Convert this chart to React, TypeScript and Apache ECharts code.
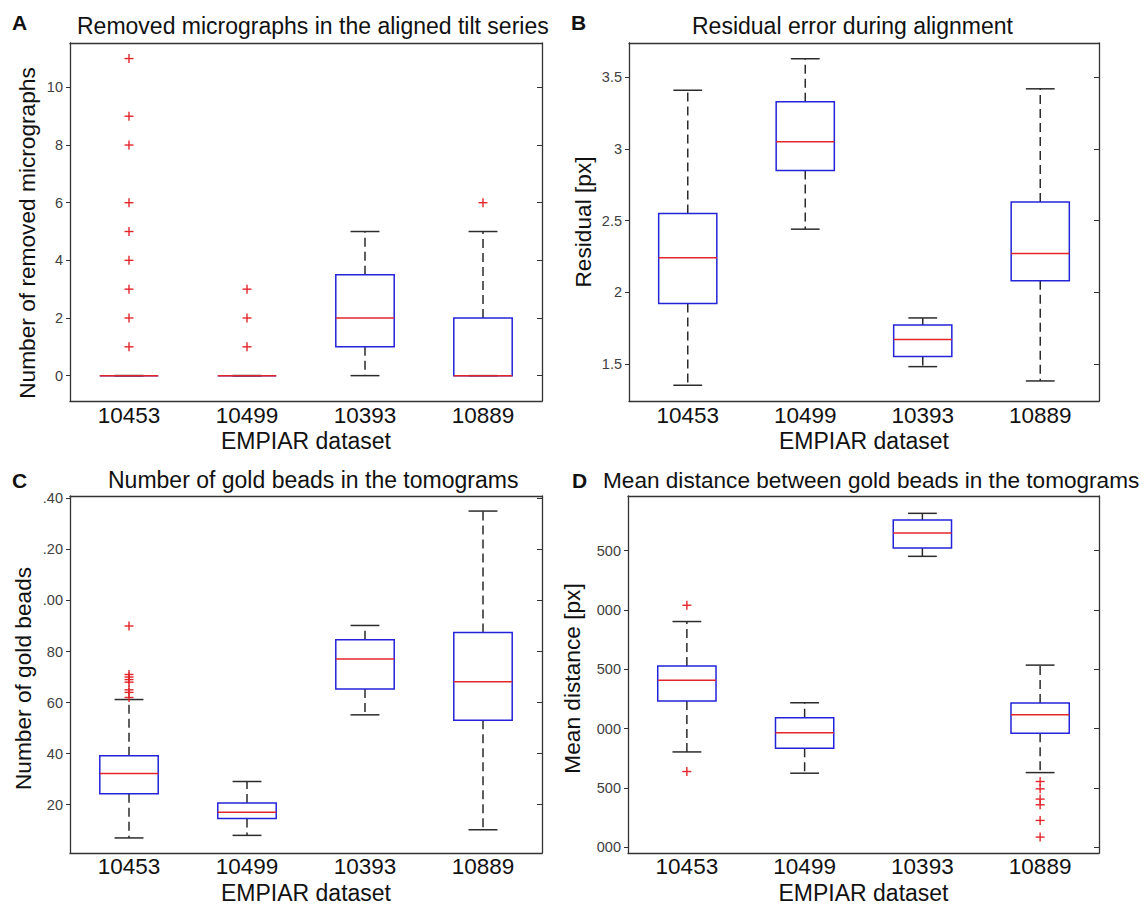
import React, { useEffect, useRef } from 'react';
import * as echarts from 'echarts';

const categories = ['10453', '10499', '10393', '10889'];

// each box: [lower whisker, q1, median, q3, upper whisker]
const removedBoxes = [
  [0, 0, 0, 0, 0],
  [0, 0, 0, 0, 0],
  [0, 1, 2, 3.5, 5],
  [0, 0, 0, 2, 5],
];
const removedOutliers = [[1, 2, 3, 4, 5, 6, 8, 9, 11], [1, 2, 3], [], [6]];
const removedTicks = [0, 2, 4, 6, 8, 10];

const residualBoxes = [
  [1.35, 1.92, 2.24, 2.55, 3.41],
  [2.44, 2.85, 3.05, 3.33, 3.63],
  [1.48, 1.55, 1.67, 1.77, 1.82],
  [1.38, 2.08, 2.27, 2.63, 3.42],
];
const residualOutliers: number[][] = [[], [], [], []];
const residualTicks = [1.5, 2, 2.5, 3, 3.5];

const beadsBoxes = [
  [7, 24.3, 32.2, 39.2, 61.2],
  [8, 14.6, 17.1, 20.7, 29.1],
  [55.2, 65.3, 77.1, 84.6, 90.2],
  [10.2, 53.1, 68.2, 87.4, 135],
];
const beadsOutliers = [[62, 64, 65, 68, 69, 70, 71, 90], [], [], []];
const beadsTicks = [20, 40, 60, 80, 100, 120, 140];

const distanceBoxes = [
  [1804, 2233, 2407, 2527, 2902],
  [1625, 1835, 1966, 2092, 2218],
  [3451, 3521, 3647, 3756, 3813],
  [1630, 1961, 2118, 2216, 2535],
];
const distanceOutliers = [[1639, 3039], [], [], [1087, 1227, 1359, 1407, 1493, 1555]];
const distanceTicks = [1000, 1500, 2000, 2500, 3000, 3500];

const FONT = '"Liberation Sans", Arial, Helvetica, sans-serif';
const AXIS_COLOR = '#333333';
const BOX_BLUE = '#2323d8';
const MED_RED = '#e3262b';

const panels = [
  {
    letter: 'A', title: 'Removed micrographs in the aligned tilt series', yName: 'Number of removed micrographs',
    boxes: removedBoxes, outliers: removedOutliers, ticks: removedTicks, min: -0.88, max: 11.54,
    grid: { left: 70, top: 43, width: 472, height: 358 }, nameGapY: 32, labelMargin: 3, namePad: [0, 22, 0, 0],
    titleX: 77, titleY: 26, letterX: 12, letterY: 22, titleSize: 23,
    fmt: (v: number) => String(v),
  },
  {
    letter: 'B', title: 'Residual error during alignment', yName: 'Residual [px]',
    boxes: residualBoxes, outliers: residualOutliers, ticks: residualTicks, min: 1.24, max: 3.74,
    grid: { left: 629, top: 43, width: 470, height: 358 }, nameGapY: 35, labelMargin: 3, namePad: [0, 0, 0, 0],
    titleX: 692, titleY: 26, letterX: 571, letterY: 22, titleSize: 23,
    fmt: (v: number) => String(v),
  },
  {
    letter: 'C', title: 'Number of gold beads in the tomograms', yName: 'Number of gold beads',
    boxes: beadsBoxes, outliers: beadsOutliers, ticks: beadsTicks, min: 1.1, max: 140.9,
    grid: { left: 70, top: 496, width: 472, height: 357 }, nameGapY: 36, labelMargin: 2, namePad: [0, 8, 0, 0],
    titleX: 108, titleY: 480, letterX: 12, letterY: 480, titleSize: 23,
    fmt: (v: number) => (v >= 100 ? '.' + String(v).slice(-2) : String(v)),
  },
  {
    letter: 'D', title: 'Mean distance between gold beads in the tomograms', yName: 'Mean distance [px]',
    boxes: distanceBoxes, outliers: distanceOutliers, ticks: distanceTicks, min: 953, max: 3959,
    grid: { left: 628, top: 496, width: 471, height: 357 }, nameGapY: 45, labelMargin: 2, namePad: [0, 8, 0, 0],
    titleX: 603, titleY: 480, letterX: 572, letterY: 480, titleSize: 22.6,
    fmt: (v: number) => String(v).slice(-3),
  },
];

function renderBox(params: any, api: any) {
  const idx = api.value(0);
  const lo = api.value(1);
  const q1 = api.value(2);
  const med = api.value(3);
  const q3 = api.value(4);
  const hi = api.value(5);
  const band = api.size([1, 0])[0];
  const bw = band * 0.495;
  const cw = band * 0.245;
  const pLo = api.coord([idx, lo]);
  const pQ1 = api.coord([idx, q1]);
  const pMed = api.coord([idx, med]);
  const pQ3 = api.coord([idx, q3]);
  const pHi = api.coord([idx, hi]);
  const x = pMed[0];
  const wStyle = { stroke: '#2b2b2b', lineWidth: 1.5, lineDash: [9, 5] };
  const cStyle = { stroke: '#2b2b2b', lineWidth: 1.5 };
  const children: any[] = [];
  if (pHi[1] < pQ3[1]) {
    children.push({ type: 'line', shape: { x1: x, y1: pQ3[1], x2: x, y2: pHi[1] }, style: wStyle });
  }
  if (pLo[1] > pQ1[1]) {
    children.push({ type: 'line', shape: { x1: x, y1: pQ1[1], x2: x, y2: pLo[1] }, style: wStyle });
  }
  children.push({ type: 'line', shape: { x1: x - cw / 2, y1: pHi[1], x2: x + cw / 2, y2: pHi[1] }, style: cStyle });
  children.push({ type: 'line', shape: { x1: x - cw / 2, y1: pLo[1], x2: x + cw / 2, y2: pLo[1] }, style: cStyle });
  children.push({
    type: 'rect',
    shape: { x: x - bw / 2, y: pQ3[1], width: bw, height: pQ1[1] - pQ3[1] },
    style: { fill: 'none', stroke: BOX_BLUE, lineWidth: 1.5 },
  });
  children.push({
    type: 'line',
    shape: { x1: x - bw / 2, y1: pMed[1], x2: x + bw / 2, y2: pMed[1] },
    style: { stroke: MED_RED, lineWidth: 1.5 },
  });
  return { type: 'group', children };
}

function renderPlus(params: any, api: any) {
  const p = api.coord([api.value(0), api.value(1)]);
  const s = 4.5;
  const st = { stroke: MED_RED, lineWidth: 1.4 };
  return {
    type: 'group',
    children: [
      { type: 'line', shape: { x1: p[0] - s, y1: p[1], x2: p[0] + s, y2: p[1] }, style: st },
      { type: 'line', shape: { x1: p[0], y1: p[1] - s, x2: p[0], y2: p[1] + s }, style: st },
    ],
  };
}

export default function App() {
  const ref = useRef<HTMLDivElement>(null);
  useEffect(() => {
    document.body.style.margin = '0';
    if (!ref.current) return;
    const chart = echarts.init(ref.current, undefined, { renderer: 'svg' });

    const grid: any[] = [];
    const xAxis: any[] = [];
    const yAxis: any[] = [];
    const series: any[] = [];
    const graphic: any[] = [];

    panels.forEach((p, i) => {
      grid.push({ ...p.grid, containLabel: false });
      xAxis.push({
        type: 'category', gridIndex: i, data: categories, position: 'bottom',
        name: 'EMPIAR dataset', nameLocation: 'middle', nameGap: 28,
        nameTextStyle: { fontFamily: FONT, fontSize: 23, color: '#111' },
        axisLine: { onZero: false, lineStyle: { color: AXIS_COLOR, width: 1.3 } },
        axisTick: { alignWithLabel: true, length: 4, lineStyle: { color: AXIS_COLOR } },
        axisLabel: { fontFamily: FONT, fontSize: 22.5, color: '#111', margin: p.labelMargin },
        splitLine: { show: false },
      });
      yAxis.push({
        type: 'value', gridIndex: i, min: p.min, max: p.max, position: 'left',
        name: p.yName, nameLocation: 'middle', nameGap: p.nameGapY,
        nameTextStyle: { fontFamily: FONT, fontSize: 22.7, color: '#111', padding: p.namePad },
        axisLine: { show: true, onZero: false, lineStyle: { color: AXIS_COLOR, width: 1.3 } },
        axisTick: { show: true, length: 4, customValues: p.ticks, lineStyle: { color: AXIS_COLOR } },
        axisLabel: { fontFamily: FONT, fontSize: 14.5, color: '#404040', margin: 7, customValues: p.ticks, formatter: p.fmt },
        splitLine: { show: false },
      });
    });
    panels.forEach((p, i) => {
      xAxis.push({
        type: 'category', gridIndex: i, data: categories, position: 'top',
        axisLine: { onZero: false, lineStyle: { color: AXIS_COLOR, width: 1.3 } },
        axisTick: { alignWithLabel: true, inside: true, length: 5, lineStyle: { color: AXIS_COLOR } },
        axisLabel: { show: false },
        splitLine: { show: false },
      });
      yAxis.push({
        type: 'value', gridIndex: i, min: p.min, max: p.max, position: 'right',
        axisLine: { show: true, onZero: false, lineStyle: { color: AXIS_COLOR, width: 1.3 } },
        axisTick: { show: true, inside: true, length: 5, customValues: p.ticks, lineStyle: { color: AXIS_COLOR } },
        axisLabel: { show: false },
        splitLine: { show: false },
      });
    });

    panels.forEach((p, i) => {
      series.push({
        type: 'custom', name: p.title + ' boxes', xAxisIndex: i, yAxisIndex: i,
        renderItem: renderBox,
        encode: { x: 0, y: [1, 2, 3, 4, 5] },
        data: p.boxes.map((b, k) => [k, ...b]),
        z: 2,
      });
      const out: number[][] = [];
      p.outliers.forEach((arr, k) => arr.forEach((v) => out.push([k, v])));
      series.push({
        type: 'custom', name: p.title + ' outliers', xAxisIndex: i, yAxisIndex: i,
        renderItem: renderPlus,
        encode: { x: 0, y: 1 },
        data: out,
        z: 3,
      });
      graphic.push({
        type: 'text', x: p.titleX, y: p.titleY,
        style: { text: p.title, fontFamily: FONT, fontSize: p.titleSize, fill: '#111', textAlign: 'left', textVerticalAlign: 'middle' },
      });
      graphic.push({
        type: 'text', x: p.letterX, y: p.letterY,
        style: { text: p.letter, fontFamily: FONT, fontSize: 21, fontWeight: 'bold', fill: '#111', textAlign: 'left', textVerticalAlign: 'middle' },
      });
    });

    chart.setOption({
      animation: false,
      backgroundColor: '#ffffff',
      grid, xAxis, yAxis, series, graphic,
    });
    return () => chart.dispose();
  }, []);
  return <div ref={ref} style={{ width: 1148, height: 907 }} />;
}
